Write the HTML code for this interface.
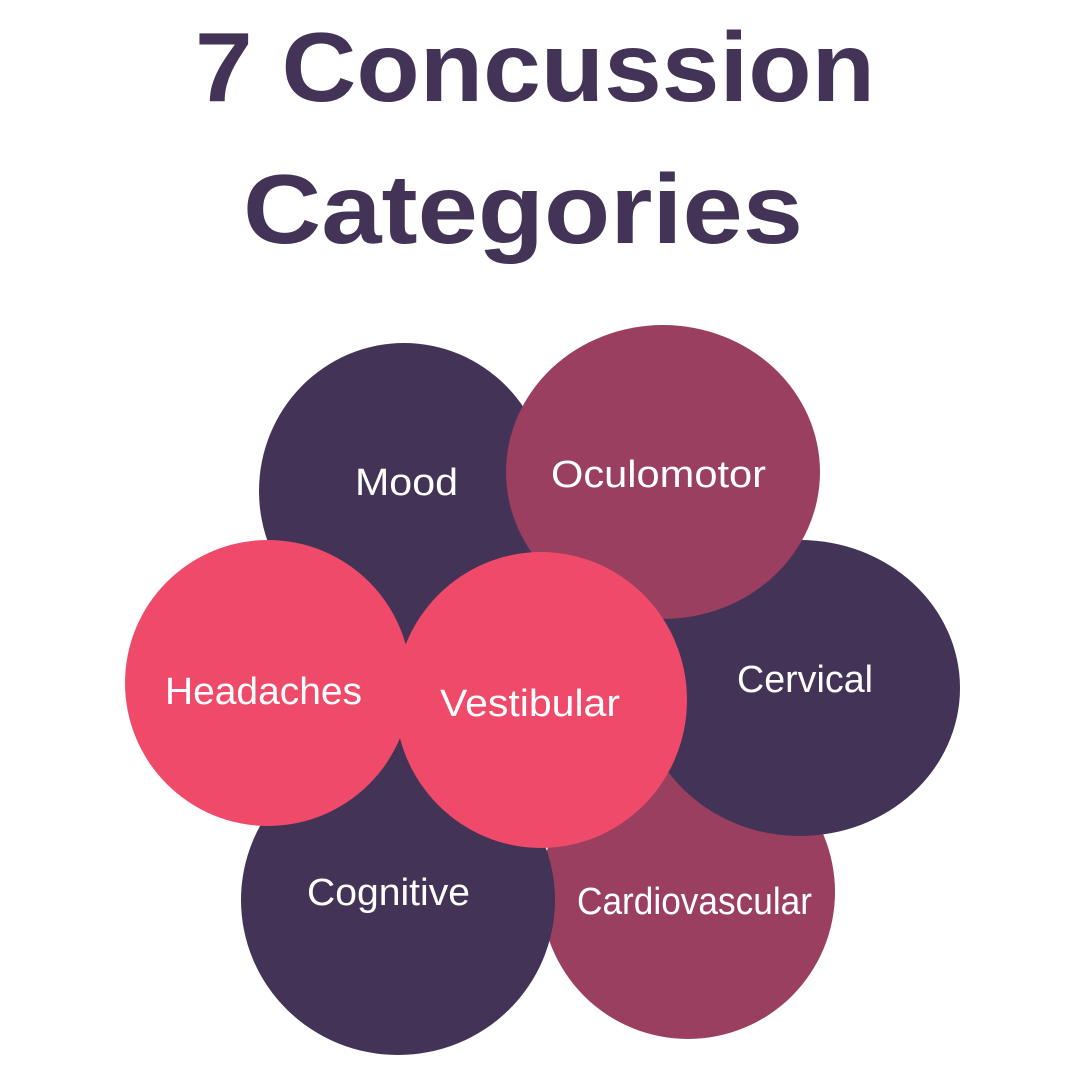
<!DOCTYPE html>
<html><head><style>html,body{margin:0;padding:0;background:#fff}</style></head>
<body>
<svg width="1080" height="1080" viewBox="0 0 1080 1080" xmlns="http://www.w3.org/2000/svg">
<rect width="1080" height="1080" fill="#fff"/>
<g font-family="Liberation Sans, sans-serif" font-weight="bold" fill="#433357" font-size="98">
<text x="195" y="101" textLength="680" lengthAdjust="spacingAndGlyphs">7 Concussion</text>
<text x="243" y="243" textLength="560" lengthAdjust="spacingAndGlyphs">Categories</text>
</g>
<rect x="370" y="600" width="60" height="180" fill="#433357"/>
<ellipse cx="404" cy="491" rx="145" ry="148" fill="#433357"/>
<ellipse cx="688" cy="892" rx="147" ry="147" fill="#9a3f5f"/>
<ellipse cx="398" cy="900" rx="157" ry="155" fill="#433357"/>
<ellipse cx="800" cy="688" rx="160" ry="148" fill="#433357"/>
<ellipse cx="663" cy="472" rx="157" ry="147" fill="#9a3f5f"/>
<ellipse cx="268" cy="683" rx="143" ry="143" fill="#ef4a69"/>
<ellipse cx="541" cy="700" rx="146" ry="148" fill="#ef4a69"/>
<g font-family="Liberation Sans, sans-serif" fill="#fff" font-size="38">
<text x="355" y="495" textLength="103" lengthAdjust="spacingAndGlyphs">Mood</text>
<text x="551" y="487" textLength="215" lengthAdjust="spacingAndGlyphs">Oculomotor</text>
<text x="737" y="692" textLength="136" lengthAdjust="spacingAndGlyphs">Cervical</text>
<text x="165" y="704" textLength="197" lengthAdjust="spacingAndGlyphs">Headaches</text>
<text x="440" y="716" textLength="180" lengthAdjust="spacingAndGlyphs">Vestibular</text>
<text x="307" y="905" textLength="163" lengthAdjust="spacingAndGlyphs">Cognitive</text>
<text x="577" y="914" textLength="235" lengthAdjust="spacingAndGlyphs">Cardiovascular</text>
</g>
</svg>
</body></html>
